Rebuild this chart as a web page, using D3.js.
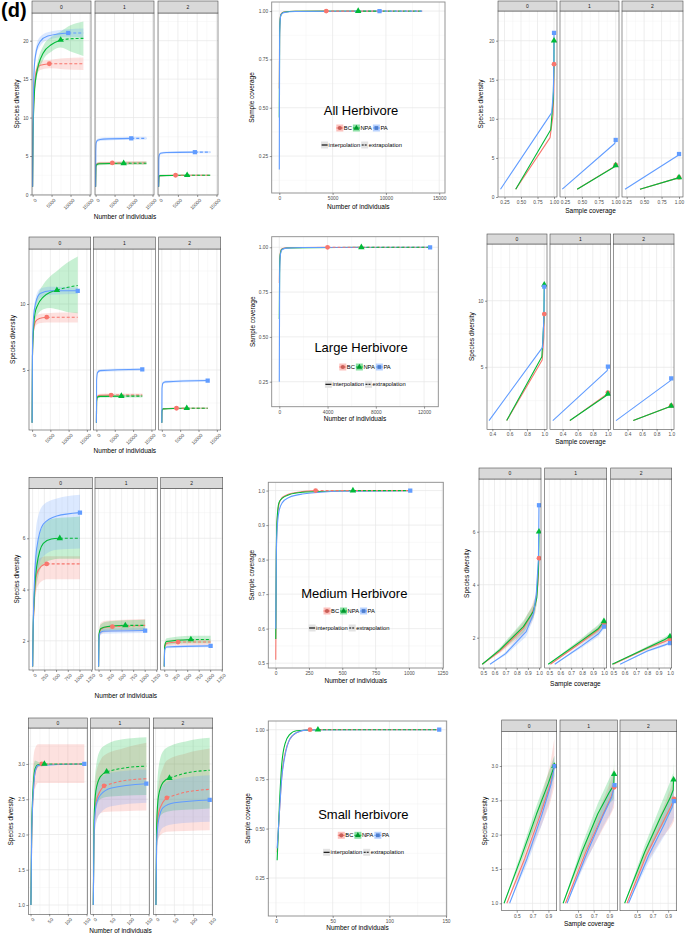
<!DOCTYPE html>
<html><head><meta charset="utf-8">
<script src="https://cdn.jsdelivr.net/npm/d3@7/dist/d3.min.js"></script>
<style>
html,body{margin:0;padding:0;background:#fff;}
svg{display:block;font-family:"Liberation Sans",Arial,Helvetica,sans-serif;}
</style></head><body>
<svg id="chart" width="685" height="935"></svg>
<script>
// ---------------- DATA ----------------
const assemblages = ["BC", "NPA", "PA"];
const colors = ["#F8766D", "#00BA38", "#619CFF"];
const facetLabels = ["0", "1", "2"];
const rowTitles = ["All Herbivore", "Large Herbivore", "Medium Herbivore", "Small herbivore"];
const methodLabels = ["interpolation", "extrapolation"];

// reference sample sizes (BC, NPA, PA)
const allRefN = [4400, 7400, 9400];
const largeRefN = [4000, 6800, 12500];
const mediumRefN = [300, 580, 1010];
const smallRefN = [30, 37, 144];

// size-based curves: facet(q=0,1,2) x assemblage : [n, diversity, lower, upper]
const allSize = [
  [
    [[1,1,1,1],[100,7.5,7.1,7.9],[450,13.5,13,14],[1000,16.1,15.5,16.7],[2000,16.8,16.2,17.4],[4400,17,16.4,17.5],[8000,17,16.3,17.7],[13400,17,16.2,17.8]],
    [[1,1,1,1],[100,7,6.6,7.4],[450,13,12.4,13.6],[1000,15.6,14.9,16.4],[2800,18.4,17.5,19.3],[5000,19.5,18.6,20.5],[7400,20.1,19.1,21.2],[10000,20.25,18.6,22],[13400,20.3,18,22.5]],
    [[1,1,1,1],[100,8,7.5,8.5],[450,16.6,16,17.3],[1000,18.7,18.1,19.4],[2000,19.9,19.3,20.5],[4000,20.6,20.1,21.1],[9400,21,20.5,21.5],[13400,21,20.4,21.6]]
  ],
  [
    [[1,1,1,1],[100,3.7,3.5,3.9],[300,3.95,3.75,4.15],[1000,4.05,3.85,4.25],[4400,4.1,3.9,4.3],[13400,4.1,3.9,4.35]],
    [[1,1,1,1],[100,3.6,3.4,3.8],[300,3.9,3.7,4.1],[1000,4,3.8,4.2],[7400,4.05,3.85,4.25],[13400,4.05,3.85,4.3]],
    [[1,1,1,1],[50,5.5,5.3,5.7],[150,6.7,6.5,6.9],[500,7.05,6.85,7.25],[2000,7.2,7,7.4],[9400,7.3,7.1,7.5],[13400,7.3,7.1,7.5]]
  ],
  [
    [[1,1,1,1],[100,2.3,2.2,2.4],[300,2.45,2.35,2.55],[4400,2.5,2.4,2.6],[13400,2.5,2.4,2.6]],
    [[1,1,1,1],[100,2.3,2.2,2.4],[300,2.45,2.35,2.55],[7400,2.5,2.4,2.6],[13400,2.5,2.4,2.6]],
    [[1,1,1,1],[50,4.5,4.35,4.65],[150,5.1,4.95,5.25],[500,5.35,5.2,5.5],[2000,5.45,5.3,5.6],[9400,5.5,5.35,5.65],[13400,5.5,5.35,5.65]]
  ]
];
const largeSize = [
  [
    [[1,1,1,1],[100,6,5.8,6.2],[400,8,7.7,8.3],[1000,8.7,8.35,9.05],[2000,8.9,8.55,9.25],[4000,9,8.6,9.3],[8000,9,8.6,9.35],[12500,9,8.6,9.35]],
    [[1,1,1,1],[100,6,5.8,6.2],[400,8.2,7.8,8.6],[800,9.3,8.8,9.8],[1500,9.9,9.2,10.6],[3100,10.55,9.6,11.5],[5000,10.9,9.7,12.1],[6800,11.05,9.6,12.5],[9500,11.25,9.4,13.1],[12500,11.4,9.3,13.6]],
    [[1,1,1,1],[100,6.5,6.3,6.7],[400,9,8.7,9.3],[1000,10.1,9.7,10.5],[2200,10.8,10.45,11.15],[5000,11,10.7,11.3],[12500,11,10.75,11.25]]
  ],
  [
    [[1,1,1,1],[50,2.7,2.6,2.8],[300,3,2.9,3.15],[1000,3.08,2.95,3.2],[4000,3.1,2.97,3.22],[12500,3.1,2.97,3.22]],
    [[1,1,1,1],[50,2.6,2.5,2.7],[300,2.95,2.85,3.05],[1000,3,2.9,3.1],[6800,3.02,2.92,3.12],[12500,3.02,2.92,3.12]],
    [[1,1,1,1],[50,4.2,4.1,4.3],[300,4.8,4.7,4.9],[1000,4.95,4.85,5.05],[12500,5.05,4.95,5.15]]
  ],
  [
    [[1,1,1,1],[50,1.9,1.85,1.95],[300,2.05,2,2.1],[4000,2.1,2.05,2.15],[12500,2.1,2.05,2.15]],
    [[1,1,1,1],[50,1.9,1.85,1.95],[300,2.05,2,2.1],[6800,2.1,2.05,2.15],[12500,2.1,2.05,2.15]],
    [[1,1,1,1],[50,3.6,3.5,3.7],[300,4,3.9,4.1],[1000,4.1,4,4.2],[12500,4.2,4.1,4.3]]
  ]
];
const mediumSize = [
  [
    [[1,1,1,1],[10,2.2,1.9,2.5],[30,3.3,2.8,3.8],[87,4.6,4,5.1],[180,4.9,4.3,5.25],[300,5,4.4,5.3],[600,5,4.4,5.3],[1010,5,4.4,5.3]],
    [[1,1,1,1],[10,2.3,2,2.6],[30,3.5,3,4],[87,4.9,4.2,5.6],[228,5.8,5,6.5],[400,5.97,5.15,6.75],[580,6,5.2,6.8],[800,6,5.2,6.82],[1010,6,5.2,6.85]],
    [[1,1,1,1],[10,2.4,2,2.8],[30,3.8,3.1,4.5],[87,5.6,4.5,6.6],[228,6.55,5.3,7.3],[514,6.87,5.55,7.55],[1010,7,5.6,7.7]]
  ],
  [
    [[1,1,1,1],[10,2.2,2,2.4],[50,2.45,2.25,2.7],[150,2.53,2.33,2.78],[300,2.55,2.35,2.8],[1010,2.6,2.37,2.85]],
    [[1,1,1,1],[10,2.25,2.1,2.4],[50,2.48,2.33,2.65],[200,2.56,2.4,2.75],[580,2.6,2.42,2.8],[1010,2.6,2.42,2.82]],
    [[1,1,1,1],[10,2.05,1.95,2.15],[30,2.3,2.2,2.4],[100,2.37,2.27,2.47],[1010,2.4,2.3,2.5]]
  ],
  [
    [[1,1,1,1],[10,1.75,1.65,1.85],[50,1.9,1.8,2],[300,1.95,1.83,2.07],[1010,1.95,1.83,2.07]],
    [[1,1,1,1],[10,1.8,1.7,1.9],[50,1.97,1.85,2.1],[580,2.05,1.9,2.2],[1010,2.05,1.9,2.2]],
    [[1,1,1,1],[10,1.65,1.6,1.7],[50,1.76,1.71,1.81],[1010,1.8,1.75,1.85]]
  ]
];
const smallSize = [
  [
    [[1,1,1,1],[3,1.9,1.65,2.2],[5,2.35,2.1,2.75],[8,2.65,2.45,3.1],[12,2.88,2.65,3.22],[20,2.98,2.73,3.28],[30,3,2.73,3.28],[80,3,2.73,3.28],[144,3,2.73,3.28]],
    [[1,1,1,1],[3,2.05,1.9,2.25],[5,2.45,2.3,2.65],[8,2.75,2.6,2.95],[12,2.93,2.85,3.05],[20,2.99,2.95,3.03],[37,3,3,3],[144,3,3,3]],
    [[1,1,1,1],[3,1.95,1.85,2.05],[5,2.35,2.25,2.45],[8,2.65,2.55,2.75],[12,2.88,2.82,2.94],[20,2.98,2.96,3],[144,3,3,3]]
  ],
  [
    [[1,1,1,1],[3,2.05,1.8,2.3],[8,2.45,2.15,2.85],[20,2.62,2.3,3.05],[30,2.69,2.32,3.12],[80,2.76,2.33,3.22],[144,2.79,2.34,3.3]],
    [[1,1,1,1],[3,2.2,2,2.45],[8,2.62,2.35,2.95],[20,2.82,2.5,3.2],[37,2.89,2.53,3.28],[80,2.94,2.55,3.35],[144,2.97,2.56,3.38]],
    [[1,1,1,1],[3,2,1.85,2.2],[8,2.4,2.15,2.65],[20,2.56,2.3,2.8],[50,2.66,2.4,2.88],[144,2.72,2.45,2.92]]
  ],
  [
    [[1,1,1,1],[3,1.95,1.75,2.2],[8,2.3,1.95,2.7],[20,2.46,2.02,2.95],[30,2.52,2.04,3.05],[80,2.6,2.05,3.15],[144,2.64,2.06,3.22]],
    [[1,1,1,1],[3,2.15,1.9,2.45],[8,2.55,2.2,2.95],[20,2.74,2.3,3.18],[37,2.8,2.33,3.25],[80,2.87,2.35,3.32],[144,2.91,2.37,3.37]],
    [[1,1,1,1],[3,1.9,1.75,2.1],[8,2.2,1.95,2.5],[20,2.38,2.1,2.7],[50,2.45,2.15,2.78],[144,2.49,2.18,2.84]]
  ]
];

// sample coverage vs number of individuals (BC, NPA, PA): [n, coverage]
const allCov = [
  [[1,0.6],[30,0.9],[80,0.96],[150,0.985],[400,0.995],[1500,0.999],[4400,1],[13400,1]],
  [[1,0.45],[30,0.88],[80,0.955],[150,0.98],[400,0.994],[1500,0.999],[7400,1],[13400,1]],
  [[1,0.18],[30,0.85],[80,0.95],[150,0.978],[400,0.992],[1500,0.998],[9400,1],[13400,1]]
];
const largeCov = [
  [[1,0.8],[30,0.92],[80,0.965],[200,0.99],[600,0.997],[4000,1],[12500,1]],
  [[1,0.6],[30,0.9],[80,0.96],[200,0.988],[600,0.996],[6800,1],[12500,1]],
  [[1,0.25],[30,0.85],[80,0.95],[200,0.985],[600,0.995],[2000,0.999],[12500,1]]
];
const mediumCov = [
  [[1,0.51],[5,0.8],[10,0.9],[25,0.96],[50,0.98],[100,0.99],[200,0.997],[300,1],[1010,1]],
  [[1,0.57],[5,0.82],[10,0.91],[25,0.965],[50,0.978],[100,0.988],[200,0.995],[400,0.998],[580,1],[1010,1]],
  [[1,0.6],[5,0.8],[10,0.88],[25,0.94],[50,0.965],[100,0.98],[200,0.99],[500,0.998],[1010,1]]
];
const smallCov = [
  [[1,0.38],[3,0.58],[5,0.76],[8,0.88],[12,0.95],[18,0.985],[25,0.998],[30,1],[144,1]],
  [[1,0.34],[3,0.62],[5,0.82],[8,0.93],[12,0.975],[18,0.995],[37,1],[144,1]],
  [[1,0.4],[3,0.58],[5,0.75],[8,0.87],[12,0.95],[18,0.985],[28,0.999],[144,1]]
];

// diversity vs sample coverage: facet x assemblage : [coverage, diversity, (lower, upper)]
const allDivCov = [
  [
    [[0.42,1],[0.94,7.6],[0.985,10.5],[0.997,13.5],[1,17]],
    [[0.42,1],[0.95,8.6],[0.988,12.5],[0.998,16.5],[1,20]],
    [[0.19,1],[0.965,10.8],[0.99,13.5],[0.998,17.5],[1,21]]
  ],
  [
    [[0.43,1],[0.99,3.95],[1,4.1]],
    [[0.43,1],[0.99,3.9],[1,4.05]],
    [[0.21,1],[0.985,6.85],[1,7.3]]
  ],
  [
    [[0.44,1],[0.99,2.45],[1,2.5]],
    [[0.44,1],[0.99,2.45],[1,2.5]],
    [[0.226,1],[0.99,5.35],[1,5.5]]
  ]
];
const largeDivCov = [
  [
    [[0.566,1],[0.976,5.55],[0.995,7.3],[1,9]],
    [[0.566,1],[0.972,5.8],[0.995,8.5],[1,11.2]],
    [[0.362,1],[0.98,6.5],[0.996,8.8],[1,11.05]]
  ],
  [
    [[0.496,1],[0.99,3],[1,3.1]],
    [[0.496,1],[0.99,2.92],[1,3]],
    [[0.27,1],[0.99,4.75],[1,5.05]]
  ],
  [
    [[0.48,1],[0.995,2.08],[1,2.12]],
    [[0.48,1],[0.995,2.07],[1,2.1]],
    [[0.243,1],[0.99,4],[1,4.17]]
  ]
];
const mediumDivCov = [
  [
    [[0.49,1,1,1],[0.65,1.5,1.42,1.58],[0.86,2.35,2.12,2.58],[0.93,2.85,2.55,3.15],[0.97,3.3,2.95,3.6],[0.99,4,3.75,4.25],[1,5,4.85,5.15]],
    [[0.49,1,1,1],[0.65,1.55,1.47,1.63],[0.86,2.42,2.2,2.64],[0.95,3,2.75,3.25],[0.98,3.5,3.25,3.75],[0.995,4.6,4.4,4.8],[1,6,5.85,6.15]],
    [[0.56,1,1,1],[0.7,1.4,1.34,1.46],[0.885,2.23,2.05,2.4],[0.95,2.9,2.7,3.1],[0.975,3.6,3.4,3.8],[0.995,5,4.85,5.15],[1,7,6.9,7.1]]
  ],
  [
    [[0.51,1,1,1],[0.8,1.85,1.78,1.95],[0.95,2.3,2.18,2.45],[1,2.55,2.42,2.7]],
    [[0.49,1,1,1],[0.8,1.9,1.82,2],[0.95,2.35,2.22,2.5],[1,2.62,2.48,2.76]],
    [[0.55,1,1,1],[0.8,1.7,1.63,1.78],[0.95,2.15,2.05,2.25],[1,2.42,2.33,2.5]]
  ],
  [
    [[0.5,1,1,1],[0.8,1.6,1.55,1.66],[0.95,1.85,1.77,1.93],[1,1.95,1.86,2.04]],
    [[0.49,1,1,1],[0.8,1.62,1.56,1.68],[0.95,1.92,1.83,2.01],[1,2.05,1.95,2.15]],
    [[0.56,1,1,1],[0.8,1.5,1.46,1.54],[0.95,1.72,1.67,1.77],[1,1.8,1.75,1.85]]
  ]
];
const smallDivCov = [
  [
    [[0.375,1,1,1],[0.6,1.65,1.55,1.75],[0.8,2.3,2.1,2.5],[0.92,2.72,2.45,3],[0.975,3,2.7,3.4]],
    [[0.34,1,1,1],[0.55,1.65,1.58,1.72],[0.75,2.3,2.18,2.42],[0.9,2.75,2.6,2.9],[0.975,3,2.85,3.15]],
    [[0.41,1,1,1],[0.63,1.65,1.57,1.73],[0.82,2.3,2.15,2.45],[0.93,2.72,2.55,2.9],[0.978,3,2.85,3.15]]
  ],
  [
    [[0.34,1,1,1],[0.6,1.75,1.62,1.88],[0.8,2.25,2.05,2.45],[0.92,2.55,2.3,2.8],[0.96,2.69,2.4,2.98]],
    [[0.31,1,1,1],[0.55,1.75,1.65,1.85],[0.75,2.3,2.15,2.45],[0.9,2.62,2.45,2.82],[0.955,2.72,2.52,2.95],[0.96,2.88,2.65,3.1]],
    [[0.36,1,1,1],[0.62,1.75,1.65,1.85],[0.82,2.28,2.12,2.44],[0.93,2.55,2.35,2.75],[0.965,2.72,2.5,2.92]]
  ],
  [
    [[0.37,1,1,1],[0.62,1.7,1.58,1.82],[0.82,2.15,1.95,2.35],[0.94,2.42,2.12,2.7],[0.975,2.52,2.2,2.85]],
    [[0.34,1,1,1],[0.6,1.75,1.65,1.85],[0.8,2.25,2.08,2.42],[0.93,2.55,2.32,2.78],[0.965,2.65,2.4,2.9],[0.97,2.8,2.55,3.05]],
    [[0.39,1,1,1],[0.65,1.7,1.6,1.8],[0.85,2.15,1.98,2.32],[0.95,2.4,2.18,2.62],[0.975,2.49,2.25,2.72]]
  ]
];

// ---------------- LAYOUT ----------------
const rowLayouts = [
  {
    left: {x0s:[32,95,158], x1s:[91,154,218], stripTop:1, top:13, bottom:195, xDomains:[[-160,15400],[-160,15400],[-160,15400]], xTicks:[0,5000,10000,15000], xFmt:"d", rotate:true, yDomain:[-0.07,23.6], yTicks:[0,5,10,15,20], yFmt:"d", yLabelX:19, xLabelY:219},
    mid: {x0:271.7, x1:445, top:2, bottom:193, xDomain:[-713,15544], xTicks:[0,5000,10000,15000], xFmt:"d", yDomain:[0.059,1.047], yTicks:[0.25,0.5,0.75,1], yFmt:".2f", yLabelX:254, xLabelY:208.5, titleX:361, titleY:115, leg1:[362.5,128], leg2:[362,145]},
    right: {x0s:[498,560,622], x1s:[557,619,683], stripTop:1, top:11, bottom:197, xDomains:[[0.152,1.045],[0.176,1.049],[0.183,1.057]], xTicks:[0.25,0.5,0.75,1], xFmt:".2f", rotate:false, yDomain:[0,23.8], yTicks:[0,5,10,15,20], yFmt:"d", yLabelX:483, xLabelY:213}
  },
  {
    left: {x0s:[29,93.3,158.7], x1s:[90.7,155.3,220.7], stripTop:237, top:249, bottom:430, xDomains:[[-850,16050],[-850,16050],[-850,16050]], xTicks:[0,5000,10000,15000], xFmt:"d", rotate:true, yDomain:[0.45,14.17], yTicks:[5,10], yFmt:"d", yLabelX:15, xLabelY:453},
    mid: {x0:271.7, x1:438.3, top:236.7, bottom:406.7, xDomain:[-630,13180], xTicks:[0,4000,8000,12000], xFmt:"d", yDomain:[0.1105,1.059], yTicks:[0.25,0.5,0.75,1], yFmt:".2f", yLabelX:255, xLabelY:420.5, titleX:361, titleY:352, leg1:[365.5,367], leg2:[365.8,384.3]},
    right: {x0s:[487,550,613.3], x1s:[547,610.7,674], stripTop:234, top:244, bottom:429.3, xDomains:[[0.3385,1.0315],[0.233,1.037],[0.206,1.038]], xTicks:[0.4,0.6,0.8,1], xFmt:".1f", rotate:false, yDomain:[0.345,14.26], yTicks:[5,10], yFmt:"d", yLabelX:474, xLabelY:444}
  },
  {
    left: {x0s:[29,95,160.7], x1s:[92.3,157.3,222.7], stripTop:477.3, top:488.3, bottom:670, xDomains:[[-77,1273],[-77,1273],[-77,1273]], xTicks:[0,250,500,750,1000,1250], xFmt:"d", rotate:true, yDomain:[0.86,7.95], yTicks:[2,4,6], yFmt:"d", yLabelX:19, xLabelY:698},
    mid: {x0:268.3, x1:443.3, top:482.3, bottom:668, xDomain:[-55,1258], xTicks:[0,250,500,750,1000,1250], xFmt:"d", yDomain:[0.486,1.024], yTicks:[0.5,0.6,0.7,0.8,0.9,1], yFmt:".1f", yLabelX:254, xLabelY:683, titleX:354.3, titleY:597.5, leg1:[349.7,611], leg2:[349.5,628]},
    right: {x0s:[479,544.7,610.7], x1s:[541,606.7,671.7], stripTop:468, top:479, bottom:668, xDomains:[[0.461,1.018],[0.458,1.025],[0.477,1.015]], xTicks:[0.5,0.6,0.7,0.8,0.9,1], xFmt:".1f", rotate:false, yDomain:[0.857,7.99], yTicks:[2,4,6], yFmt:"d", yLabelX:469.3, xLabelY:686}
  },
  {
    left: {x0s:[28.3,90.7,153.3], x1s:[87.3,149.3,212.7], stripTop:718, top:728, bottom:914.3, xDomains:[[-6,152],[-6,152],[-6,152]], xTicks:[0,50,100,150], xFmt:"d", rotate:true, yDomain:[0.868,3.51], yTicks:[1,1.5,2,2.5,3], yFmt:".1f", yLabelX:13, xLabelY:933},
    mid: {x0:268.3, x1:446.7, top:721, bottom:916, xDomain:[-6.8,150.6], xTicks:[0,50,100,150], xFmt:"d", yDomain:[0.058,1.044], yTicks:[0.25,0.5,0.75,1], yFmt:".2f", yLabelX:250, xLabelY:930, titleX:363.3, titleY:819, leg1:[364,835.3], leg2:[364,852.3]},
    right: {x0s:[501.7,560,620], x1s:[556.7,617.3,676.7], stripTop:720, top:731.7, bottom:910.7, xDomains:[[0.31,1.005],[0.27,1],[0.28,1.01]], xTicks:[0.5,0.7,0.9], xFmt:".1f", rotate:false, yDomain:[0.892,3.5], yTicks:[1,1.5,2,2.5,3], yFmt:".1f", yLabelX:487.3, xLabelY:926}
  }
];

const rowData = [
  {size: allSize, refN: allRefN, cov: allCov, divCov: allDivCov},
  {size: largeSize, refN: largeRefN, cov: largeCov, divCov: largeDivCov},
  {size: mediumSize, refN: mediumRefN, cov: mediumCov, divCov: mediumDivCov},
  {size: smallSize, refN: smallRefN, cov: smallCov, divCov: smallDivCov}
];

// ---------------- DRAWING ----------------
const svg = d3.select("#chart");
const shapeTypes = [d3.symbolCircle, d3.symbolTriangle, d3.symbolSquare];
let clipN = 0;

function minorOf(ticks, dom) {
  const step = ticks[1] - ticks[0];
  const out = [];
  for (let t = ticks[0] - step / 2; t <= dom[1] + 1e-9; t += step) {
    if (t >= dom[0]) out.push(t);
  }
  return out;
}

function addGrid(g, x, y, xt, yt, x0, x1, top, bottom) {
  const add = (vals, vert, color, w) => g.append("g").selectAll("line").data(vals).join("line")
    .attr("x1", d => vert ? x(d) : x0).attr("x2", d => vert ? x(d) : x1)
    .attr("y1", d => vert ? top : y(d)).attr("y2", d => vert ? bottom : y(d))
    .attr("stroke", color).attr("stroke-width", w);
  add(minorOf(xt, x.domain()), true, "#f3f3f3", 0.5);
  add(minorOf(yt, y.domain()), false, "#f3f3f3", 0.5);
  add(xt, true, "#e6e6e6", 0.7);
  add(yt, false, "#e6e6e6", 0.7);
}

function drawCurves(g, x, y, curves, refN, linear) {
  const cv = linear ? d3.curveLinear : d3.curveMonotoneX;
  curves.forEach((pts, a) => {
    if (pts[0].length >= 4) {
      g.append("path")
        .attr("d", d3.area().x(p => x(p[0])).y0(p => y(p[2])).y1(p => y(p[3])).curve(cv)(pts))
        .attr("fill", colors[a]).attr("fill-opacity", 0.22).attr("stroke", "none");
    }
  });
  const line = d3.line().x(p => x(p[0])).y(p => y(p[1])).curve(cv);
  curves.forEach((pts, a) => {
    const seg = refN ? pts.filter(p => p[0] <= refN[a]) : pts;
    g.append("path").attr("d", line(seg)).attr("fill", "none")
      .attr("stroke", colors[a]).attr("stroke-width", 1.1).attr("stroke-linejoin", "round");
  });
  if (refN) {
    curves.forEach((pts, a) => {
      const seg = pts.filter(p => p[0] >= refN[a]);
      if (seg.length > 1) {
        g.append("path").attr("d", line(seg)).attr("fill", "none")
          .attr("stroke", colors[a]).attr("stroke-width", 1.1).attr("stroke-dasharray", "3,2");
      }
    });
  }
  curves.forEach((pts, a) => {
    const m = refN ? pts.find(p => p[0] === refN[a]) : pts[pts.length - 1];
    g.append("path").attr("d", d3.symbol(shapeTypes[a], 18)())
      .attr("transform", `translate(${x(m[0])},${y(m[1])})`).attr("fill", colors[a]);
  });
}

function styleAxis(ax) {
  ax.select(".domain").remove();
  ax.attr("font-size", null).attr("font-family", null);
  ax.selectAll(".tick line").attr("stroke", "#333").attr("stroke-width", 0.5);
  ax.selectAll(".tick text").attr("fill", "#4d4d4d").style("font-size", "4.8px");
}

function axisTitle(x, y, text, rotate) {
  const t = svg.append("text").attr("text-anchor", "middle").style("font-size", "6.5px").attr("fill", "#000").text(text);
  if (rotate) t.attr("transform", `translate(${x},${y}) rotate(-90)`);
  else t.attr("x", x).attr("y", y);
}

function facetGroup(L, curves, refN, linear, yLabel, xLabel) {
  const y = d3.scaleLinear().domain(L.yDomain).range([L.bottom, L.top]);
  L.x0s.forEach((x0, f) => {
    const x1 = L.x1s[f];
    const x = d3.scaleLinear().domain(L.xDomains[f]).range([x0, x1]);
    const id = "clip" + (clipN++);
    svg.append("clipPath").attr("id", id).append("rect")
      .attr("x", x0).attr("y", L.top).attr("width", x1 - x0).attr("height", L.bottom - L.top);
    const g = svg.append("g");
    g.append("rect").attr("x", x0).attr("y", L.top).attr("width", x1 - x0).attr("height", L.bottom - L.top).attr("fill", "#fff");
    const inner = g.append("g").attr("clip-path", `url(#${id})`);
    addGrid(inner, x, y, L.xTicks, L.yTicks, x0, x1, L.top, L.bottom);
    drawCurves(inner, x, y, curves[f], refN, linear);
    g.append("rect").attr("x", x0).attr("y", L.top).attr("width", x1 - x0).attr("height", L.bottom - L.top)
      .attr("fill", "none").attr("stroke", "#4d4d4d").attr("stroke-width", 0.6);
    g.append("rect").attr("x", x0).attr("y", L.stripTop).attr("width", x1 - x0).attr("height", L.top - L.stripTop)
      .attr("fill", "#d9d9d9").attr("stroke", "#4d4d4d").attr("stroke-width", 0.6);
    g.append("text").attr("x", (x0 + x1) / 2).attr("y", (L.stripTop + L.top) / 2 + 1.8)
      .attr("text-anchor", "middle").style("font-size", "5px").attr("fill", "#1a1a1a").text(facetLabels[f]);
    const ax = g.append("g").attr("transform", `translate(0,${L.bottom})`)
      .call(d3.axisBottom(x).tickValues(L.xTicks).tickFormat(d3.format(L.xFmt)).tickSizeInner(2).tickSizeOuter(0).tickPadding(1.5));
    styleAxis(ax);
    if (L.rotate) {
      ax.selectAll(".tick text").attr("text-anchor", "end").attr("y", 0).attr("dy", "0.71em")
        .attr("transform", "translate(1.5,3.2) rotate(-45)");
    }
    if (f === 0) {
      const ay = g.append("g").attr("transform", `translate(${x0},0)`)
        .call(d3.axisLeft(y).tickValues(L.yTicks).tickFormat(d3.format(L.yFmt)).tickSizeInner(2).tickSizeOuter(0).tickPadding(1.5));
      styleAxis(ay);
    }
  });
  axisTitle(L.yLabelX, (L.top + L.bottom) / 2, yLabel, true);
  axisTitle((L.x0s[0] + L.x1s[L.x1s.length - 1]) / 2, L.xLabelY, xLabel, false);
}

function legendRow(cx, cy, labels, drawKey) {
  const g = svg.append("g");
  let xpos = 0;
  labels.forEach((lab, i) => {
    const k = g.append("g").attr("transform", `translate(${xpos},${cy - 3.5})`);
    drawKey(k, i);
    xpos += 7.5;
    const t = g.append("text").attr("x", xpos).attr("y", cy + 2).style("font-size", "5.8px").attr("fill", "#000").text(lab);
    xpos += t.node().getComputedTextLength() + 1;
  });
  g.attr("transform", `translate(${cx - xpos / 2},0)`);
}

function coveragePanel(M, curves, refN, title) {
  const x = d3.scaleLinear().domain(M.xDomain).range([M.x0, M.x1]);
  const y = d3.scaleLinear().domain(M.yDomain).range([M.bottom, M.top]);
  const id = "clip" + (clipN++);
  svg.append("clipPath").attr("id", id).append("rect")
    .attr("x", M.x0).attr("y", M.top).attr("width", M.x1 - M.x0).attr("height", M.bottom - M.top);
  const g = svg.append("g");
  g.append("rect").attr("x", M.x0).attr("y", M.top).attr("width", M.x1 - M.x0).attr("height", M.bottom - M.top).attr("fill", "#fff");
  const inner = g.append("g").attr("clip-path", `url(#${id})`);
  addGrid(inner, x, y, M.xTicks, M.yTicks, M.x0, M.x1, M.top, M.bottom);
  drawCurves(inner, x, y, curves, refN, false);
  g.append("rect").attr("x", M.x0).attr("y", M.top).attr("width", M.x1 - M.x0).attr("height", M.bottom - M.top)
    .attr("fill", "none").attr("stroke", "#8a8a8a").attr("stroke-width", 0.9);
  const ax = g.append("g").attr("transform", `translate(0,${M.bottom})`)
    .call(d3.axisBottom(x).tickValues(M.xTicks).tickFormat(d3.format(M.xFmt)).tickSizeInner(2).tickSizeOuter(0).tickPadding(1.5));
  styleAxis(ax);
  const ay = g.append("g").attr("transform", `translate(${M.x0},0)`)
    .call(d3.axisLeft(y).tickValues(M.yTicks).tickFormat(d3.format(M.yFmt)).tickSizeInner(2).tickSizeOuter(0).tickPadding(1.5));
  styleAxis(ay);
  axisTitle(M.yLabelX, (M.top + M.bottom) / 2, "Sample coverage", true);
  axisTitle((M.x0 + M.x1) / 2, M.xLabelY, "Number of individuals", false);
  svg.append("text").attr("x", M.titleX).attr("y", M.titleY).attr("text-anchor", "middle")
    .style("font-size", "13px").attr("fill", "#000").text(title);
  legendRow(M.leg1[0], M.leg1[1], assemblages, (k, i) => {
    k.append("rect").attr("width", 7).attr("height", 7).attr("fill", colors[i]).attr("fill-opacity", 0.45);
    k.append("line").attr("x1", 0).attr("x2", 7).attr("y1", 3.5).attr("y2", 3.5).attr("stroke", colors[i]).attr("stroke-width", 1);
    k.append("path").attr("d", d3.symbol(shapeTypes[i], 14)()).attr("transform", "translate(3.5,3.5)").attr("fill", d3.color(colors[i]).darker(0.6));
  });
  legendRow(M.leg2[0], M.leg2[1], methodLabels, (k, i) => {
    k.append("rect").attr("width", 7).attr("height", 7).attr("fill", "#e3e3e3");
    k.append("line").attr("x1", 0.5).attr("x2", 6.5).attr("y1", 3.5).attr("y2", 3.5).attr("stroke", "#000")
      .attr("stroke-width", 1.1).attr("stroke-dasharray", i === 1 ? "2,1" : null);
  });
}

rowLayouts.forEach((R, r) => {
  const D = rowData[r];
  facetGroup(R.left, D.size, D.refN, false, "Species diversity", "Number of individuals");
  coveragePanel(R.mid, D.cov, D.refN, rowTitles[r]);
  facetGroup(R.right, D.divCov, null, true, "Species diversity", "Sample coverage");
});

svg.append("text").attr("x", 1).attr("y", 17).style("font-size", "20px").style("font-weight", "bold")
  .attr("fill", "#000").text("(d)");
</script>
</body></html>
